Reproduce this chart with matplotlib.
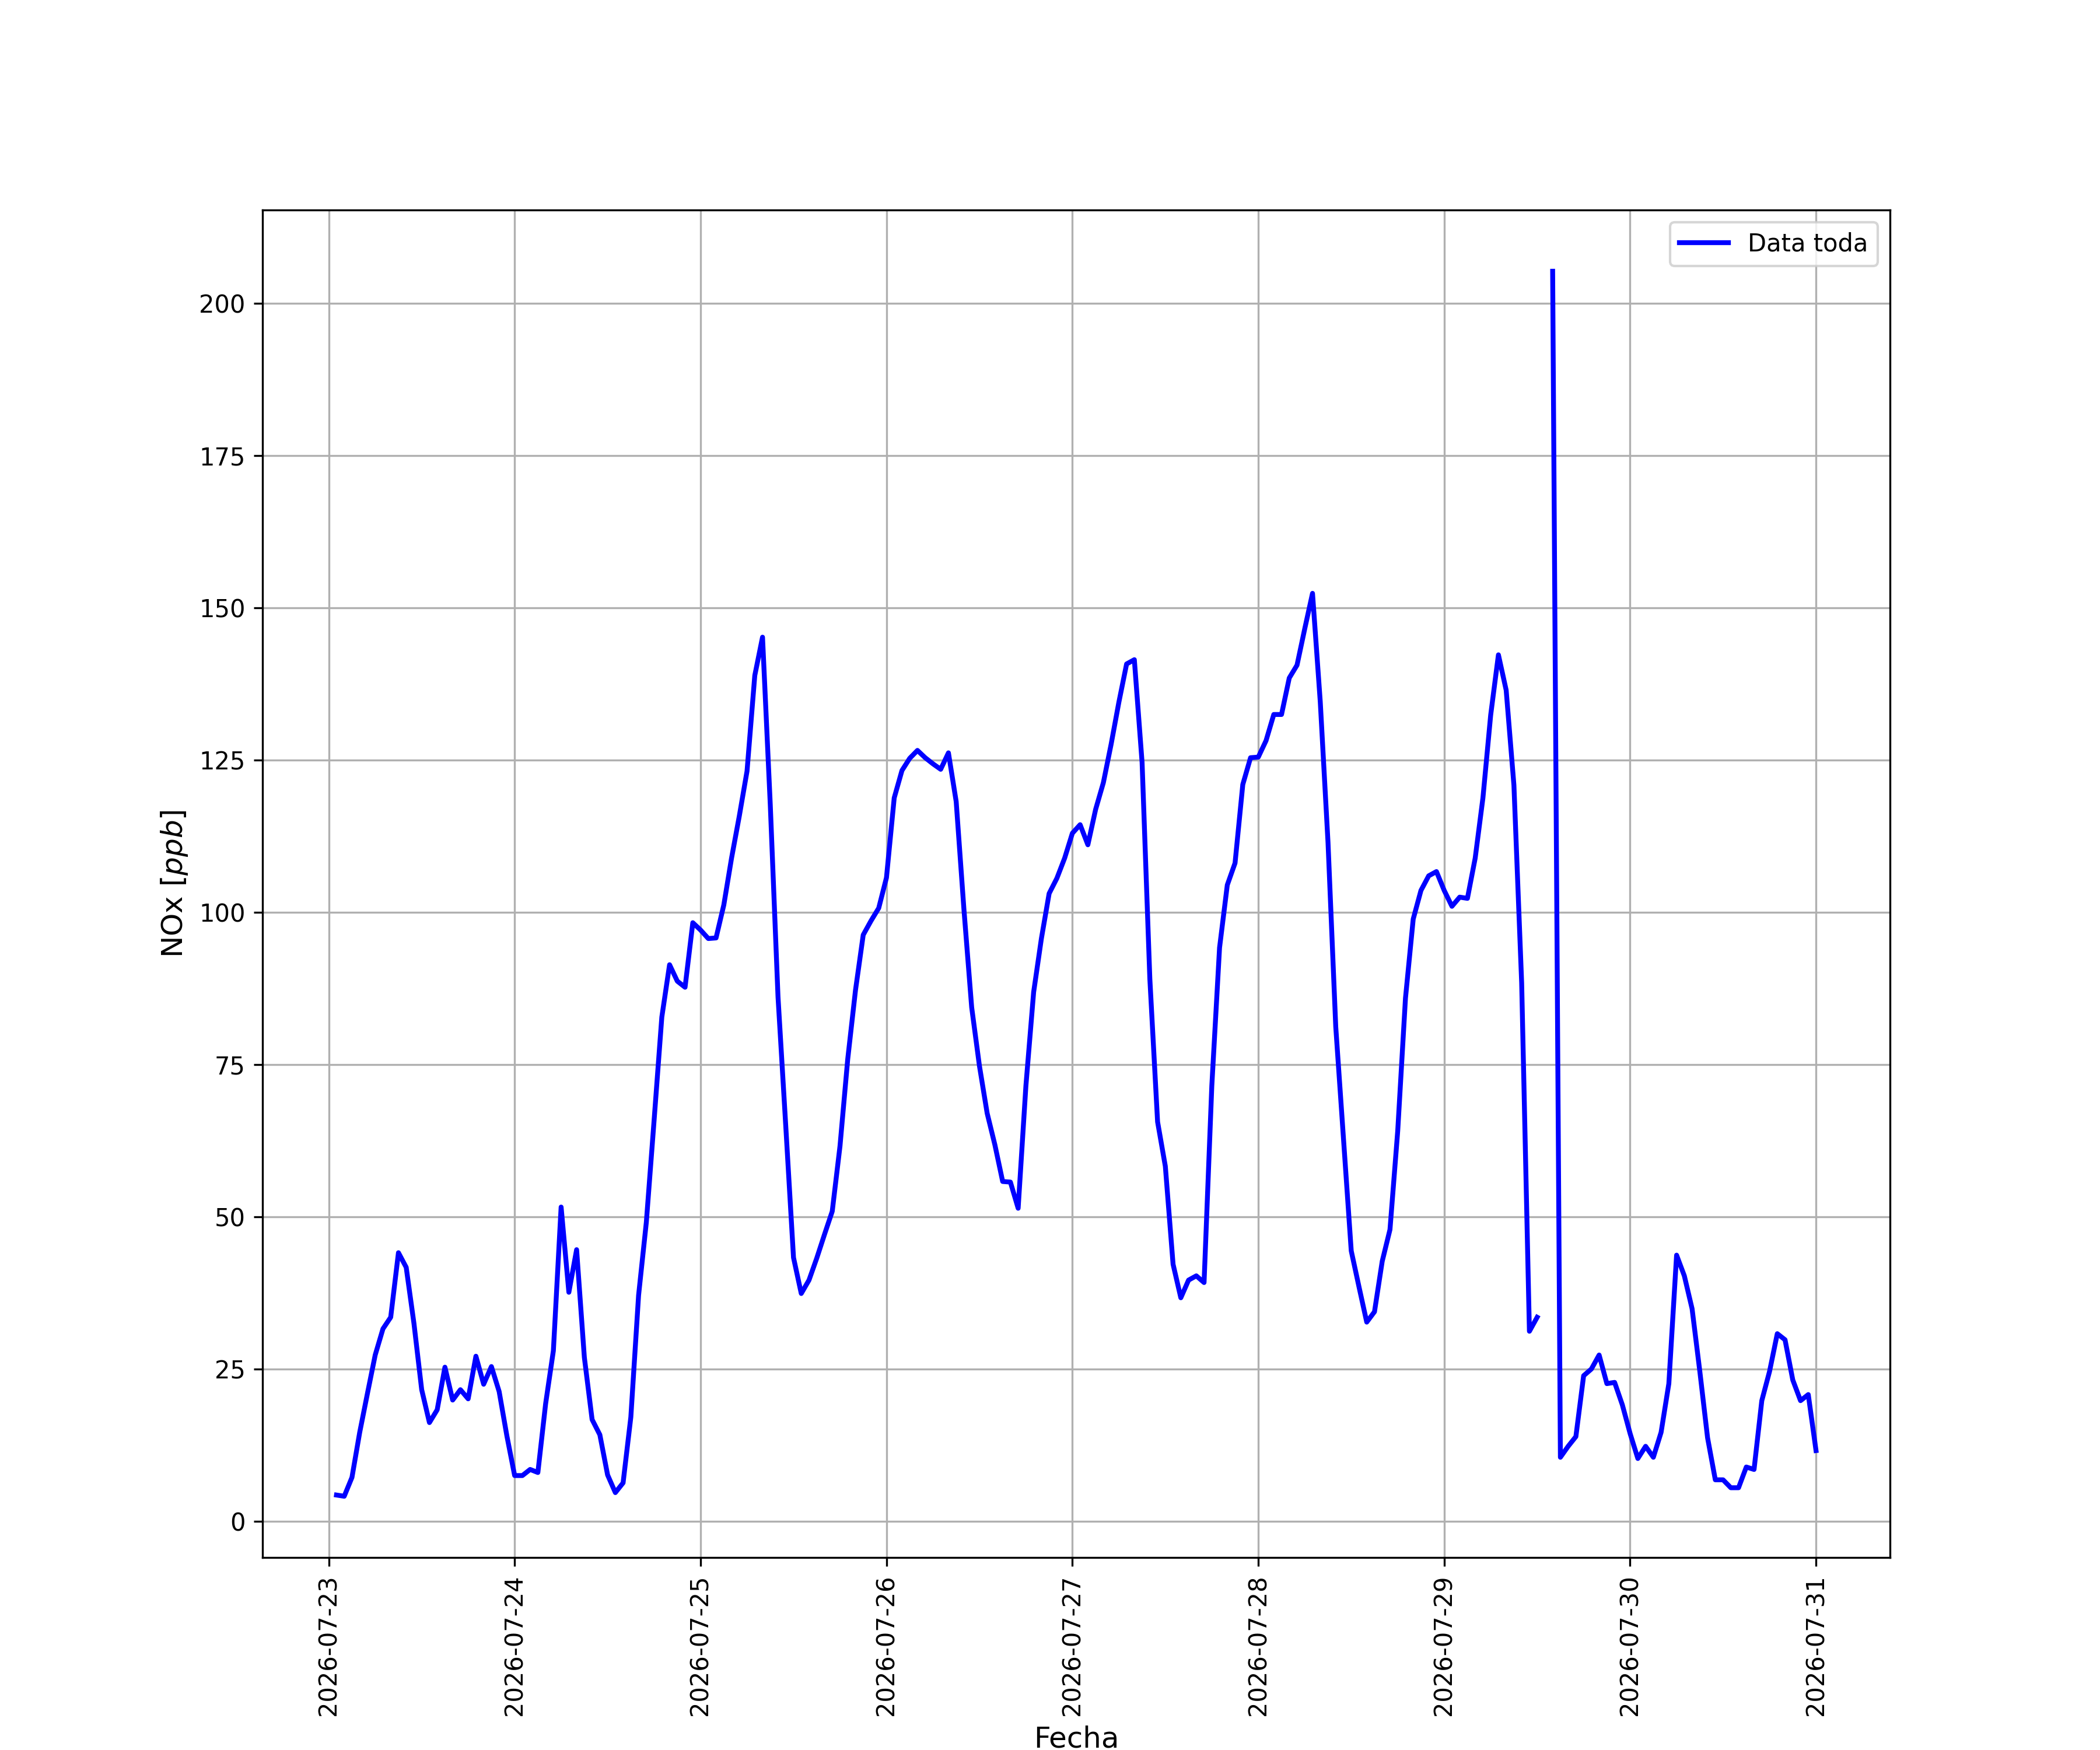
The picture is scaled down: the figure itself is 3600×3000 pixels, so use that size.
import numpy as np
import pandas as pd
import matplotlib
matplotlib.use('Agg')
import matplotlib.pyplot as plt
import matplotlib.dates as mdates

# NOx horario [ppb], desde 2026-07-23 01:00 hasta 2026-07-31 00:00
dia_23 = [4.3, 4.1, 7.2, 14.6, 21.0, 27.3, 31.6, 33.5, 44.1, 41.7, 32.5, 21.6,
          16.2, 18.3, 25.3, 19.9, 21.6, 20.1, 27.1, 22.5, 25.4, 21.3, 14.0, 7.5]
dia_24 = [7.5, 8.5, 8.0, 19.3, 28.0, 51.6, 37.6, 44.6, 26.9, 16.7, 14.2, 7.6,
          4.7, 6.3, 17.1, 37.1, 49.1, 65.8, 82.8, 91.4, 88.7, 87.7, 98.3, 97.1]
dia_25 = [95.7, 95.8, 101.2, 108.9, 115.8, 123.2, 138.9, 145.2, 117.7, 86.1, 64.9, 43.3,
          37.4, 39.6, 43.2, 47.1, 50.9, 61.6, 75.9, 87.2, 96.3, 98.6, 100.7, 105.7]
dia_26 = [118.8, 123.3, 125.3, 126.6, 125.4, 124.4, 123.5, 126.2, 118.2, 100.5, 84.4, 74.8,
          67.0, 61.8, 55.8, 55.7, 51.4, 71.5, 86.9, 95.7, 103.1, 105.6, 108.9, 113.0]
dia_27 = [114.4, 111.1, 116.9, 121.3, 127.6, 134.5, 140.8, 141.5, 124.6, 89.1, 65.6, 58.3,
          42.2, 36.7, 39.6, 40.3, 39.2, 71.5, 94.2, 104.5, 108.1, 121.0, 125.4, 125.5]
dia_28 = [128.2, 132.5, 132.5, 138.5, 140.6, 146.6, 152.4, 134.6, 111.5, 81.2, 62.8, 44.4,
          38.5, 32.7, 34.4, 42.7, 47.9, 64.1, 85.9, 98.9, 103.6, 106.0, 106.7, 103.6]
dia_29 = [101.0, 102.5, 102.3, 108.9, 118.8, 132.4, 142.3, 136.5, 120.9, 88.4, 31.2, 33.5,
          np.nan, 205.3, 10.5, 12.3, 13.9, 23.9, 25.0, 27.3, 22.6, 22.8, 19.1, 14.4]
dia_30 = [10.3, 12.3, 10.5, 14.6, 22.6, 43.7, 40.3, 34.9, 24.6, 13.7, 6.8, 6.8,
          5.5, 5.5, 8.9, 8.5, 19.8, 24.6, 30.8, 29.8, 23.2, 19.8, 20.8, 11.6]

nox = dia_23 + dia_24 + dia_25 + dia_26 + dia_27 + dia_28 + dia_29 + dia_30
fecha = pd.date_range('2026-07-23 01:00', periods=len(nox), freq='h')


def main():
    fig = plt.figure(figsize=(12, 10))
    ax = fig.add_subplot(111)
    ax.plot(fecha, nox, color='blue', linewidth=2, label='Data toda')
    ax.xaxis.set_major_locator(mdates.DayLocator())
    ax.xaxis.set_major_formatter(mdates.DateFormatter('%Y-%m-%d'))
    plt.xticks(rotation=90)
    ax.set_xlabel('Fecha', fontsize=12)
    ax.set_ylabel('NOx [$ppb$]', fontsize=12)
    ax.grid(True)
    ax.legend(loc='upper right')
    fig.savefig('out.png', dpi=300)


if __name__ == '__main__':
    main()
